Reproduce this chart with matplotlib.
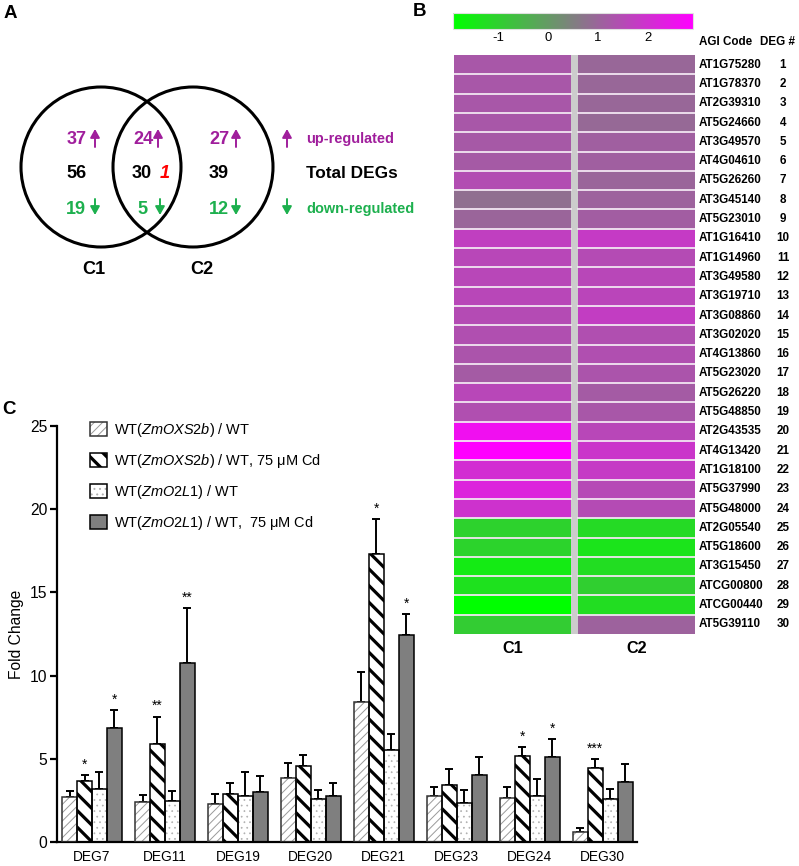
import numpy as np
import matplotlib
matplotlib.use("Agg")
import matplotlib.pyplot as plt
from matplotlib import font_manager
from matplotlib.colors import LinearSegmentedColormap, Normalize
from matplotlib.cm import ScalarMappable
from matplotlib.patches import Circle, Rectangle
from matplotlib.legend_handler import HandlerTuple

# -----------------------------
# fonts: narrow Arial-like if present
# -----------------------------
names = {f.name for f in font_manager.fontManager.ttflist}
if "Liberation Sans Narrow" in names:
    FONT, K = "Liberation Sans Narrow", 1.0
else:
    FONT, K = "Liberation Sans", 0.9
plt.rcParams["font.family"] = [FONT, "DejaVu Sans"]
plt.rcParams["mathtext.fontset"] = "custom"
plt.rcParams["mathtext.rm"] = FONT
plt.rcParams["mathtext.it"] = FONT + ":italic"
plt.rcParams["axes.unicode_minus"] = False
plt.rcParams["hatch.linewidth"] = 0.7

MAG = "#A01E9C"
GRN = "#1DB04E"

# -----------------------------
# DATA
# -----------------------------
# A: Venn counts (C1 only, shared, C2 only)
venn_up = [37, 24, 27]
venn_total = [56, 30, 39]
venn_down = [19, 5, 12]
venn_opposite = 1

# B: heat map (log2 fold change)
agi_codes = ["AT1G75280", "AT1G78370", "AT2G39310", "AT5G24660", "AT3G49570",
             "AT4G04610", "AT5G26260", "AT3G45140", "AT5G23010", "AT1G16410",
             "AT1G14960", "AT3G49580", "AT3G19710", "AT3G08860", "AT3G02020",
             "AT4G13860", "AT5G23020", "AT5G26220", "AT5G48850", "AT2G43535",
             "AT4G13420", "AT1G18100", "AT5G37990", "AT5G48000", "AT2G05540",
             "AT5G18600", "AT3G15450", "ATCG00800", "ATCG00440", "AT5G39110"]
deg_ids = list(range(1, 31))
heat_c1 = [1.25, 1.25, 1.25, 1.25, 1.22, 1.2, 1.44, 0.8, 0.99, 1.7,
           1.55, 1.55, 1.55, 1.48, 1.4, 1.31, 1.18, 1.55, 1.4, 2.6,
           2.9, 2.04, 2.24, 1.96, -1.04, -1.07, -1.52, -1.33, -1.9, -0.93]
heat_c2 = [0.95, 0.95, 0.95, 0.92, 1.1, 1.1, 0.99, 1.06, 1.14, 1.81,
           1.48, 1.55, 1.59, 1.75, 1.4, 1.4, 1.31, 1.18, 1.25, 1.55,
           1.89, 1.8, 1.53, 1.48, -1.19, -1.38, -1.26, -1.0, -1.25, 1.06]
cbar_ticks = [-1, 0, 1, 2]

# C: qRT-PCR fold change
groups = ["DEG7", "DEG11", "DEG19", "DEG20", "DEG21", "DEG23", "DEG24", "DEG30"]
labels = ["WT($\\mathit{ZmOXS2b}$) / WT",
          "WT($\\mathit{ZmOXS2b}$) / WT, 75 μM Cd",
          "WT($\\mathit{ZmO2L1}$) / WT",
          "WT($\\mathit{ZmO2L1}$) / WT,  75 μM Cd"]
oxs = [2.70, 2.38, 2.27, 3.83, 8.39, 2.76, 2.62, 0.58]
oxs_err = [0.38, 0.44, 0.63, 0.90, 1.84, 0.56, 0.70, 0.28]
oxs_cd = [3.66, 5.89, 2.90, 4.57, 17.3, 3.45, 5.17, 4.47]
oxs_cd_err = [0.37, 1.64, 0.67, 0.66, 2.1, 0.96, 0.52, 0.52]
o2l = [3.20, 2.44, 2.75, 2.57, 5.53, 2.36, 2.74, 2.56]
o2l_err = [1.02, 0.64, 1.48, 0.57, 0.94, 0.79, 1.05, 0.64]
o2l_cd = [6.87, 10.76, 3.03, 2.76, 12.46, 4.03, 5.11, 3.59]
o2l_cd_err = [1.06, 3.29, 0.96, 0.77, 1.24, 1.08, 1.08, 1.10]
stars_oxs_cd = ["*", "**", "", "", "*", "", "*", "***"]
stars_o2l_cd = ["*", "**", "", "", "*", "", "*", ""]

# -----------------------------
# FIGURE
# -----------------------------
W, H = 799, 866
fig = plt.figure(figsize=(W / 100, H / 100), dpi=100)


def px_axes(x0, y0, x1, y1):
    return fig.add_axes([x0 / W, 1 - y1 / H, (x1 - x0) / W, (y1 - y0) / H])


# overlay in pixel coords for panel A and free text
ov = fig.add_axes([0, 0, 1, 1])
ov.set_xlim(0, W)
ov.set_ylim(H, 0)
ov.axis("off")
ov.patch.set_alpha(0)

for lab, x, y in [("A", 10, 14), ("B", 420, 12), ("C", 9, 410)]:
    ov.text(x, y, lab, fontsize=15 * K, fontweight="bold", ha="center", va="center")

# ---- A: Venn
for cx in (101, 193):
    ov.add_patch(Circle((cx, 167), 80, fill=False, lw=2.2, ec="black"))


def varrow(x, y0, y1, color):
    ov.annotate("", xy=(x, y1), xytext=(x, y0),
                arrowprops=dict(arrowstyle="-|>,head_length=0.5,head_width=0.28",
                                color=color, lw=1.4, shrinkA=0, shrinkB=0))


num_x = [77, 144, 219]
up_arrow_x = [95, 158, 236]
down_x = [76, 143, 219]
down_arrow_x = [95, 160, 236]
nfs = 14.5 * K
for i in range(3):
    ov.text(num_x[i], 137, str(venn_up[i]), color=MAG, fontsize=nfs,
            fontweight="bold", ha="center", va="center_baseline")
    varrow(up_arrow_x[i], 147, 129, MAG)
    ov.text([77, 142, 219][i], 172, str(venn_total[i]), color="black", fontsize=nfs,
            fontweight="bold", ha="center", va="center_baseline")
    ov.text(down_x[i], 207, str(venn_down[i]), color=GRN, fontsize=nfs,
            fontweight="bold", ha="center", va="center_baseline")
    varrow(down_arrow_x[i], 199, 215, GRN)
ov.text(165, 172, str(venn_opposite), color="red", fontsize=nfs, fontweight="bold",
        fontstyle="italic", ha="center", va="center_baseline")
varrow(287, 147, 129, MAG)
varrow(287, 199, 215, GRN)
ov.text(306, 137, "up-regulated", color=MAG, fontsize=11.6 * K, fontweight="bold",
        ha="left", va="center_baseline")
ov.text(306, 172, "Total DEGs", color="black", fontsize=13.8 * K, fontweight="bold",
        ha="left", va="center_baseline")
ov.text(306, 207, "down-regulated", color=GRN, fontsize=11.6 * K, fontweight="bold",
        ha="left", va="center_baseline")
ov.text(94, 267, "C1", fontsize=14.5 * K, fontweight="bold", ha="center", va="center_baseline")
ov.text(202, 267, "C2", fontsize=14.5 * K, fontweight="bold", ha="center", va="center_baseline")

# ---- B: heat map
cmap = LinearSegmentedColormap.from_list("gm", ["#00FF00", "#808080", "#FF00FF"])
norm = Normalize(vmin=-1.9, vmax=2.9)

cax = px_axes(453, 13, 693, 29)
cb = fig.colorbar(ScalarMappable(norm=norm, cmap=cmap), cax=cax, orientation="horizontal")
cb.set_ticks(cbar_ticks)
cb.ax.tick_params(length=0, labelsize=10.5 * K, pad=2)
cb.outline.set_edgecolor("#e0e0e0")
cb.outline.set_linewidth(0.8)

hm = px_axes(454, 55, 695, 634)
hm.set_zorder(3)
n = len(agi_codes)
data = np.ma.masked_invalid(np.column_stack([heat_c1, np.full(n, np.nan), heat_c2]))
xedges = [0, 117, 124, 241]
hm.pcolormesh(xedges, np.arange(n + 1), data, cmap=cmap, norm=norm)
hm.set_facecolor("#cccccc")
hm.set_xlim(0, 241)
hm.set_ylim(n, 0)
for y in range(1, n):
    hm.plot([0, 117], [y, y], color="#f2e6f2", lw=1.3)
    hm.plot([124, 241], [y, y], color="#f2e6f2", lw=1.3)
hm.set_xticks([])
hm.set_yticks([])
for s in hm.spines.values():
    s.set_visible(False)
for i, (code, d) in enumerate(zip(agi_codes, deg_ids)):
    hm.text(245, i + 0.5, code, fontsize=9.3 * K, fontweight="bold", ha="left",
            va="center", clip_on=False)
    hm.text(329, i + 0.5, str(d), fontsize=9.3 * K, fontweight="bold", ha="center",
            va="center", clip_on=False)
hm.text(58.5, n + 0.75, "C1", fontsize=13 * K, fontweight="bold", ha="center",
        va="center", clip_on=False)
hm.text(182.5, n + 0.75, "C2", fontsize=13 * K, fontweight="bold", ha="center",
        va="center", clip_on=False)
ov.text(699, 42, "AGI Code", fontsize=9.3 * K, fontweight="bold", ha="left", va="center")
ov.text(778, 42, "DEG #", fontsize=9.3 * K, fontweight="bold", ha="center", va="center")

# ---- C: bar chart
ax = px_axes(57, 426, 637, 842)
ax.set_facecolor("none")
x = np.arange(len(groups))
w = 0.205
series = [(oxs, oxs_err), (oxs_cd, oxs_cd_err), (o2l, o2l_err), (o2l_cd, o2l_cd_err)]
styles = [
    dict(face="white", hatch="////", hcol="#9a9a9a", hlw=0.7, edge="#333333"),
    dict(face="white", hatch="\\\\", hcol="black", hlw=2.3, edge="black"),
    dict(face="white", hatch="...", hcol="#b0b0b0", hlw=0.5, edge="black"),
    dict(face="#7f7f7f", hatch=None, hcol="#7f7f7f", hlw=0.7, edge="black"),
]
handles = []
for k, ((vals, errs), st) in enumerate(zip(series, styles)):
    xs = x + (k - 1.5) * w
    plt.rcParams["hatch.linewidth"] = st["hlw"]
    fill = ax.bar(xs, vals, w, color=st["face"], hatch=st["hatch"],
                  edgecolor=st["hcol"], linewidth=0, zorder=2)
    for p in fill:
        if hasattr(p, "set_hatch_linewidth"):
            p.set_hatch_linewidth(st["hlw"])
    edge = ax.bar(xs, vals, w, fill=False, edgecolor=st["edge"], linewidth=1.1, zorder=3)
    ax.errorbar(xs, vals, yerr=[np.zeros(len(vals)), errs], fmt="none", ecolor="black",
                elinewidth=1.4, capsize=2.8, capthick=1.4, zorder=1)
    handles.append((fill[0], edge[0]))
plt.rcParams["hatch.linewidth"] = 0.7

for k, stars in [(1, stars_oxs_cd), (3, stars_o2l_cd)]:
    vals, errs = series[k]
    for i, s in enumerate(stars):
        if s:
            ax.text(x[i] + (k - 1.5) * w, vals[i] + errs[i] + 0.4, s, fontsize=11 * K,
                    ha="center", va="baseline")

ax.set_xlim(-0.48, 7.47)
ax.set_ylim(0, 25)
ax.set_yticks([0, 5, 10, 15, 20, 25])
ax.set_xticks(x)
ax.set_xticklabels(groups)
ax.tick_params(axis="y", direction="out", length=5, width=1.6, labelsize=12.5 * K, pad=2)
ax.tick_params(axis="x", length=0, labelsize=11 * K, pad=6)
for side in ("top", "right"):
    ax.spines[side].set_visible(False)
for side in ("left", "bottom"):
    ax.spines[side].set_linewidth(1.6)
ax.set_ylabel("Fold Change", fontsize=12.5 * K, labelpad=4)

leg = ax.legend(handles, labels, handler_map={tuple: HandlerTuple(ndivide=1, pad=0)},
                loc="upper left", bbox_to_anchor=(90 / W, 1 - 421 / H),
                bbox_transform=fig.transFigure, frameon=False, fontsize=11.6 * K,
                handlelength=1.15, handleheight=1.15, handletextpad=0.48,
                labelspacing=0.9, borderpad=0, borderaxespad=0)
for p in leg.findobj(Rectangle):
    if p.get_hatch() == "\\\\" and hasattr(p, "set_hatch_linewidth"):
        p.set_hatch_linewidth(2.3)

fig.savefig("out.png", dpi=100)
